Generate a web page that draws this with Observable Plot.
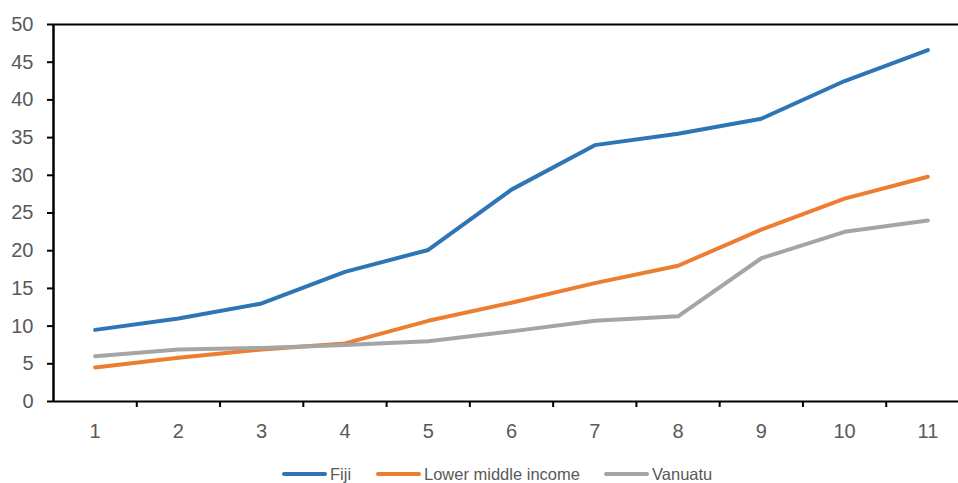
<!DOCTYPE html>
<html>
<head>
<meta charset="utf-8">
<script src="https://cdn.jsdelivr.net/npm/d3@7"></script>
<script src="https://cdn.jsdelivr.net/npm/@observablehq/plot@0.6"></script>
<style>
  html, body { margin: 0; padding: 0; background: #fff; overflow: hidden; }
  #chart { position: relative; width: 958px; height: 483px; }
  #legend { position: absolute; left: 0; top: 462px; width: 958px; height: 24px;
    font-family: "Liberation Sans", Arial, sans-serif; font-size: 16.5px; color: #595959; }
  .item { position: absolute; top: 0; display: flex; align-items: center; height: 24px; white-space: nowrap; }
  .sw { display: inline-block; width: 45px; height: 4px; border-radius: 2px; margin-right: 3px; }
</style>
</head>
<body>
<div id="chart"></div>
<script>
const xValues = [1, 2, 3, 4, 5, 6, 7, 8, 9, 10, 11];
const seriesNames = ["Fiji", "Lower middle income", "Vanuatu"];
const fiji = [9.5, 11.0, 13.0, 17.2, 20.1, 28.1, 34.0, 35.5, 37.5, 42.5, 46.6];
const lowerMiddle = [4.5, 5.8, 6.9, 7.7, 10.7, 13.1, 15.7, 18.0, 22.8, 26.9, 29.8];
const vanuatu = [6.0, 6.9, 7.1, 7.5, 8.0, 9.3, 10.7, 11.3, 19.0, 22.5, 24.0];
const colors = ["#2E75B6", "#ED7D31", "#A5A5A5"];
const yTicks = [0, 5, 10, 15, 20, 25, 30, 35, 40, 45, 50];

const seriesValues = [fiji, lowerMiddle, vanuatu];
const data = [];
seriesNames.forEach((name, i) => {
  xValues.forEach((x, j) => data.push({series: name, x, value: seriesValues[i][j]}));
});
const boundaries = [0.5, ...xValues.map(d => d + 0.5)];

const font = "Liberation Sans, Arial, sans-serif";
const plot = Plot.plot({
  width: 958,
  height: 445,
  marginLeft: 53,
  marginRight: 0,
  marginTop: 24,
  marginBottom: 44,
  style: {fontFamily: font, background: "#fff"},
  x: {type: "linear", domain: [0.5, 11.5], range: [53, 969]},
  y: {domain: [0, 50], range: [401, 24]},
  color: {domain: seriesNames, range: colors},
  marks: [
    Plot.axisY({ticks: yTicks, tickSize: 6, tickPadding: 14, stroke: "#000", strokeWidth: 2, fill: "#595959", fontSize: 20, label: null, tickFormat: d => String(d)}),
    Plot.axisX({ticks: boundaries.slice(1), tickSize: 6, stroke: "#000", strokeWidth: 2, tickFormat: () => "", label: null}),
    Plot.axisX({ticks: xValues, tickSize: 0, tickPadding: 22, fill: "#595959", fontSize: 20, label: null, tickFormat: d => String(d)}),
    Plot.ruleY([50], {stroke: "#000", strokeWidth: 2}),
    Plot.ruleY([0], {stroke: "#000", strokeWidth: 2}),
    Plot.ruleX([0.5], {y1: 0, y2: 50, stroke: "#000", strokeWidth: 2.5}),
    Plot.line(data, {x: "x", y: "value", z: "series", stroke: "series", strokeWidth: 4, strokeLinecap: "round", strokeLinejoin: "round"})
  ]
});
const chart = document.getElementById("chart");
chart.appendChild(plot);

const legend = document.createElement("div");
legend.id = "legend";
const lefts = [282, 376, 604];
seriesNames.forEach((name, i) => {
  const it = document.createElement("div");
  it.className = "item";
  it.style.left = lefts[i] + "px";
  const sw = document.createElement("span");
  sw.className = "sw";
  sw.style.background = colors[i];
  const tx = document.createElement("span");
  tx.textContent = name;
  it.appendChild(sw);
  it.appendChild(tx);
  legend.appendChild(it);
});
chart.appendChild(legend);
</script>
</body>
</html>
